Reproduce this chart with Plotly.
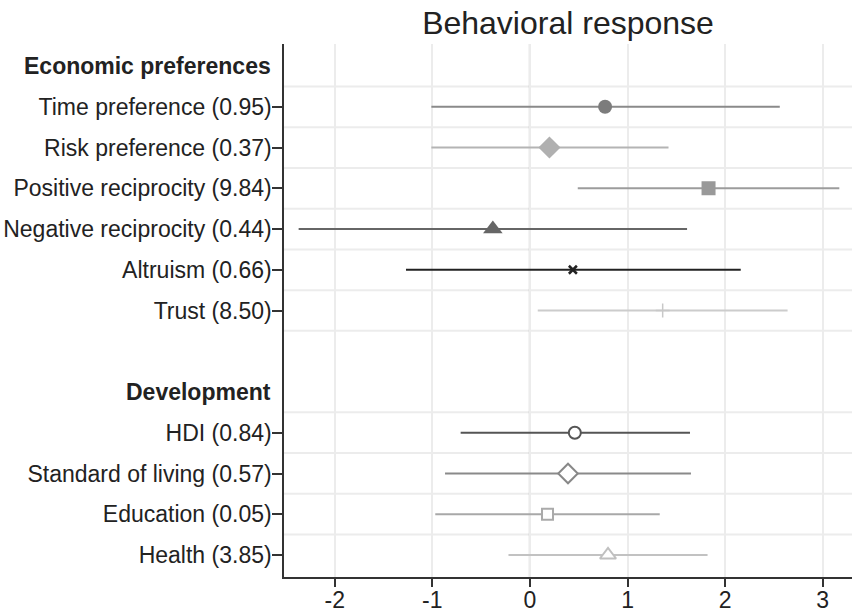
import plotly.graph_objects as go

# ---- data ----
group_headers = ["Economic preferences", "Development"]
header_rows = [0, 8]

labels = [
    "Time preference (0.95)", "Risk preference (0.37)", "Positive reciprocity (9.84)",
    "Negative reciprocity (0.44)", "Altruism (0.66)", "Trust (8.50)",
    "HDI (0.84)", "Standard of living (0.57)", "Education (0.05)", "Health (3.85)",
]
rows = [1, 2, 3, 4, 5, 6, 9, 10, 11, 12]
estimate = [0.77, 0.20, 1.83, -0.38, 0.44, 1.36, 0.46, 0.39, 0.18, 0.80]
ci_low = [-1.01, -1.01, 0.49, -2.37, -1.27, 0.08, -0.71, -0.87, -0.97, -0.22]
ci_high = [2.56, 1.42, 3.17, 1.61, 2.16, 2.64, 1.64, 1.65, 1.33, 1.82]

x_ticks = [-2, -1, 0, 1, 2, 3]

# ---- styles ----
symbols = ["circle", "diamond", "square", "triangle-up", "x-thin", "cross-thin",
           "circle", "diamond", "square", "triangle-up"]
filled = [True, True, True, True, True, True, False, False, False, False]
mcolors = ["#7c7c7c", "#b0b0b0", "#999999", "#666666", "#222222", "#c8c8c8",
           "#555555", "#888888", "#aaaaaa", "#c0c0c0"]
lcolors = ["#8a8a8a", "#b4b4b4", "#9c9c9c", "#666666", "#222222", "#cccccc",
           "#555555", "#8a8a8a", "#a8a8a8", "#c2c2c2"]
msizes = [14, 17, 14, 17, 8, 10, 12, 15, 11, 14]

FONT = "Liberation Sans, Arial, sans-serif"

fig = go.Figure()

for i in range(len(labels)):
    sym = symbols[i]
    if filled[i]:
        if sym in ("x-thin", "cross-thin"):
            marker = dict(symbol=sym, size=msizes[i], color=mcolors[i],
                          line=dict(color=mcolors[i], width=2.5 if sym == "x-thin" else 1.5))
        else:
            marker = dict(symbol=sym, size=msizes[i], color=mcolors[i],
                          line=dict(width=0))
    else:
        marker = dict(symbol=sym, size=msizes[i], color="white",
                      line=dict(color=mcolors[i], width=2))
    fig.add_trace(go.Scatter(
        x=[estimate[i]], y=[rows[i]], mode="markers",
        marker=marker,
        error_x=dict(type="data", symmetric=False,
                     array=[ci_high[i] - estimate[i]],
                     arrayminus=[estimate[i] - ci_low[i]],
                     color=lcolors[i], thickness=2, width=0),
        showlegend=False, hoverinfo="skip",
    ))

# horizontal gridlines between rows
grid_rows = [r + 0.5 for r in [0, 1, 2, 3, 4, 5, 6, 8, 9, 10, 11]]
shapes = []
for g in grid_rows:
    shapes.append(dict(type="line", xref="paper", x0=0, x1=1, yref="y", y0=g, y1=g,
                       line=dict(color="#ececec", width=2), layer="below"))
# zero line
shapes.append(dict(type="line", xref="x", x0=0, x1=0, yref="paper", y0=0, y1=1,
                   line=dict(color="#555555", width=2), layer="below"))

annotations = []
for h, r in zip(group_headers, header_rows):
    annotations.append(dict(text="<b>%s</b>" % h, xref="paper", x=0, xshift=-11,
                            xanchor="right", yref="y", y=r, yanchor="middle",
                            showarrow=False, font=dict(family=FONT, size=23, color="#222222")))

fig.update_layout(
    width=852, height=614,
    margin=dict(l=284, r=0, t=44, b=37),
    paper_bgcolor="white", plot_bgcolor="white",
    title=dict(text="Behavioral response", x=0.5, xref="paper",
               xanchor="center", y=0.963, yanchor="middle",
               font=dict(family=FONT, size=32, color="#222222")),
    font=dict(family=FONT, size=23, color="#222222"),
    shapes=shapes, annotations=annotations,
)

fig.update_xaxes(
    range=[-2.52, 3.30], tickvals=x_ticks, ticktext=[str(t) for t in x_ticks],
    showgrid=True, gridcolor="#ececec", gridwidth=2, zeroline=False,
    showline=True, linecolor="#333333", linewidth=1.5, automargin=False,
    ticks="outside", ticklen=8, tickwidth=1.5, tickcolor="#333333",
    ticklabelstandoff=-6,
    tickfont=dict(family=FONT, size=23, color="#222222"),
)
fig.update_yaxes(
    range=[12.54, -0.54], tickvals=rows, ticktext=labels,
    showgrid=False, zeroline=False, automargin=False,
    showline=True, linecolor="#333333", linewidth=1.5,
    ticks="outside", ticklen=10, tickwidth=1.5, tickcolor="#333333",
    ticklabelstandoff=-4,
    tickfont=dict(family=FONT, size=23, color="#222222"),
)

fig.write_html("out.html")
